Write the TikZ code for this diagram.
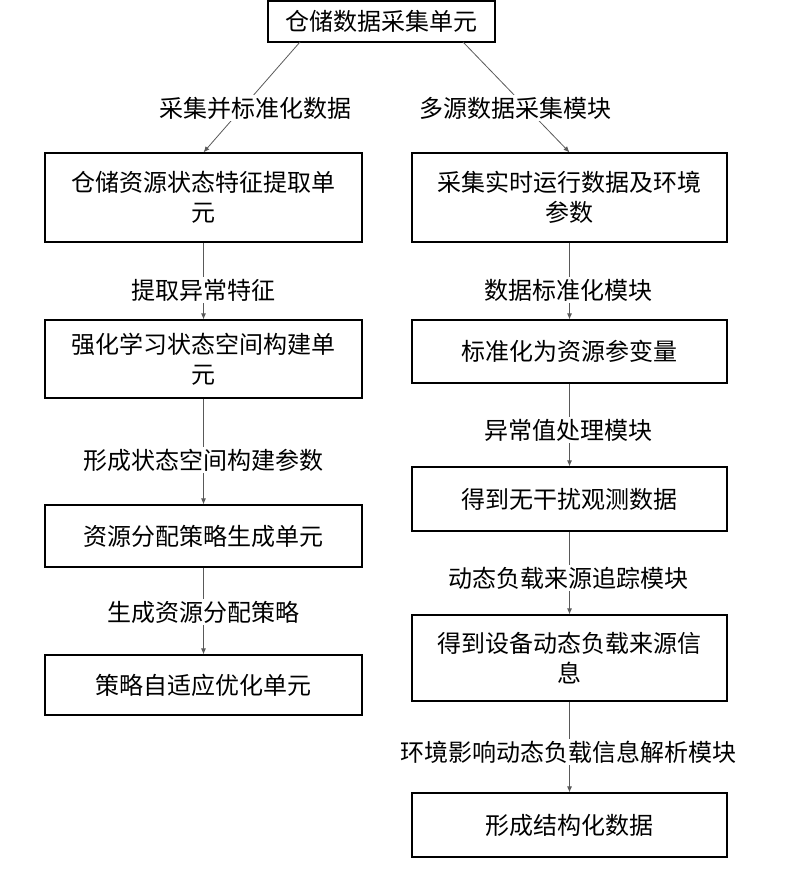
\documentclass[tikz,border=0pt]{standalone}
\usepackage{fontspec}
\setmainfont{Noto Sans CJK SC}
\usetikzlibrary{arrows.meta}
\begin{document}
\begin{tikzpicture}[x=1pt,y=-1pt,
  box/.style={draw,line width=1.2pt,align=center,font=\fontsize{24}{30}\selectfont},
  lbl/.style={fill=white,inner sep=2pt,font=\fontsize{24}{28}\selectfont},
  ar/.style={line width=0.8pt,gray!70!black,-{Latex[length=6pt,width=5pt]}}]
\useasboundingbox (0,0) rectangle (784,872);
\def\bx#1#2#3#4#5#6{\node[box,minimum width=#4-#2,minimum height=#5-#3] (#1) at ({(#2+#4)/2},{(#3+#5)/2}) {#6};}
\bx{top}{268}{1}{495}{42}{仓储数据采集单元}
\bx{l1}{45}{153}{362}{242}{仓储资源状态特征提取单\\元}
\bx{l2}{45}{320}{362}{398}{强化学习状态空间构建单\\元}
\bx{l3}{45}{505}{362}{567}{资源分配策略生成单元}
\bx{l4}{45}{655}{362}{715}{策略自适应优化单元}
\bx{r1}{412}{153}{727}{242}{采集实时运行数据及环境\\参数}
\bx{r2}{412}{320}{727}{383}{标准化为资源参变量}
\bx{r3}{412}{467}{727}{531}{得到无干扰观测数据}
\bx{r4}{412}{615}{727}{701}{得到设备动态负载来源信\\息}
\bx{r5}{412}{793}{727}{857}{形成结构化数据}
\coordinate (ta) at (300,42); \coordinate (tb) at (463,42);
\draw[ar] (ta) -- (l1.north);
\draw[ar] (tb) -- (r1.north);
\draw[ar] (l1) -- (l2); \draw[ar] (l2) -- (l3); \draw[ar] (l3) -- (l4);
\draw[ar] (r1) -- (r2); \draw[ar] (r2) -- (r3); \draw[ar] (r3) -- (r4); \draw[ar] (r4) -- (r5);
\node[lbl] (a1) at (255,108) {采集并标准化数据};
\node[lbl] (a2) at (515,108) {多源数据采集模块};
\node[lbl] (a3) at (203,290) {提取异常特征};
\node[lbl] (a4) at (203,460) {形成状态空间构建参数};
\node[lbl] (a5) at (203,612) {生成资源分配策略};
\node[lbl] (b1) at (568,290) {数据标准化模块};
\node[lbl] (b2) at (568,430) {异常值处理模块};
\node[lbl] (b3) at (568,578) {动态负载来源追踪模块};
\node[lbl] (b4) at (568,752) {环境影响动态负载信息解析模块};
\end{tikzpicture}
\end{document}
